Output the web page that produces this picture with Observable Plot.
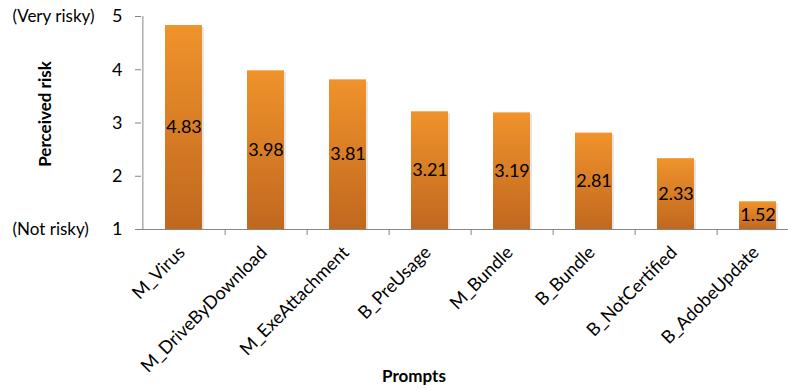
<!DOCTYPE html>
<html>
<head>
<meta charset="utf-8">
<script src="https://cdn.jsdelivr.net/npm/d3@7"></script>
<script src="https://cdn.jsdelivr.net/npm/@observablehq/plot@0.6"></script>
<style>
  body { margin: 0; background: #fff; }
  #chart svg { overflow: visible; }
</style>
</head>
<body>
<div id="chart"></div>
<script>
// Mean perceived risk per prompt (1 = not risky, 5 = very risky)
const prompts = ["M_Virus", "M_DriveByDownload", "M_ExeAttachment", "B_PreUsage",
                 "M_Bundle", "B_Bundle", "B_NotCertified", "B_AdobeUpdate"];
const risk = [4.83, 3.98, 3.81, 3.21, 3.19, 2.81, 2.33, 1.52];
const yTicks = [1, 2, 3, 4, 5];
const scaleEnds = [{v: 5, text: "(Very risky)"}, {v: 1, text: "(Not risky)"}];

const rows = prompts.map((p, i) => ({prompt: p, risk: risk[i]}));

const xRange = [141, 799];
const halfStep = (xRange[1] - xRange[0]) / prompts.length / 2;
const axisGray = "#868686";
const font = "Lato, 'Open Sans', sans-serif";

// vertical orange gradient shared by every bar
function gradientDefs() {
  const defs = d3.create("svg:defs");
  const g = defs.append("linearGradient")
    .attr("id", "barFill").attr("x1", 0).attr("y1", 0).attr("x2", 0).attr("y2", 1);
  g.append("stop").attr("offset", "0%").attr("stop-color", "#f0932b");
  g.append("stop").attr("offset", "100%").attr("stop-color", "#c0681f");
  return defs.node();
}

const chart = Plot.plot({
  width: 788,
  height: 390,
  marginLeft: 141,
  marginTop: 16,
  marginBottom: 161,
  marginRight: 0,
  style: {fontFamily: font, fontSize: "16px", color: "#000", background: "#fff"},
  x: {domain: prompts, range: xRange, paddingInner: 0.55, paddingOuter: 0.275, label: null},
  y: {domain: [1, 5], label: null},
  marks: [
    gradientDefs,
    // soft shadow to the right of each bar
    Plot.barY(rows, {x: "prompt", y1: 1, y2: "risk", dx: 2, insetTop: 2, fill: "#000", fillOpacity: 0.10}),
    Plot.barY(rows, {x: "prompt", y1: 1, y2: "risk", fill: "url(#barFill)"}),
    Plot.text(rows, {
      x: "prompt", y: d => (1 + d.risk) / 2, text: d => d.risk.toFixed(2),
      fontSize: 18, fill: "#000"
    }),
    // axis lines and boundary ticks
    Plot.ruleY([1], {stroke: axisGray}),
    Plot.ruleX([prompts[0]], {x: d => d, y1: 1, y2: 5, dx: -halfStep, stroke: axisGray}),
    Plot.ruleX(prompts, {x: d => d, y1: 1, y2: 1, insetBottom: -6, dx: halfStep, stroke: axisGray}),
    Plot.axisY(yTicks, {tickSize: 6, tickPadding: 13, tickFormat: d => String(d), stroke: axisGray, fontSize: 18, fill: "#000", label: null}),
    Plot.axisX({tickSize: 0, tickPadding: 12, dy: 8, dx: -2, tickRotate: -45, fontSize: 18, fill: "#000", label: null}),
    Plot.text(scaleEnds, {y: "v", text: "text", frameAnchor: "left", dx: -129, textAnchor: "start", fontSize: 17}),
    Plot.text(["Perceived risk"], {frameAnchor: "left", textAnchor: "middle", rotate: -90, dx: -96, dy: -9, fontWeight: "bold", fontSize: 17}),
    Plot.text(["Prompts"], {frameAnchor: "bottom", dx: -51, dy: 152, fontWeight: "bold", fontSize: 17})
  ]
});

document.getElementById("chart").append(chart);
</script>
</body>
</html>
